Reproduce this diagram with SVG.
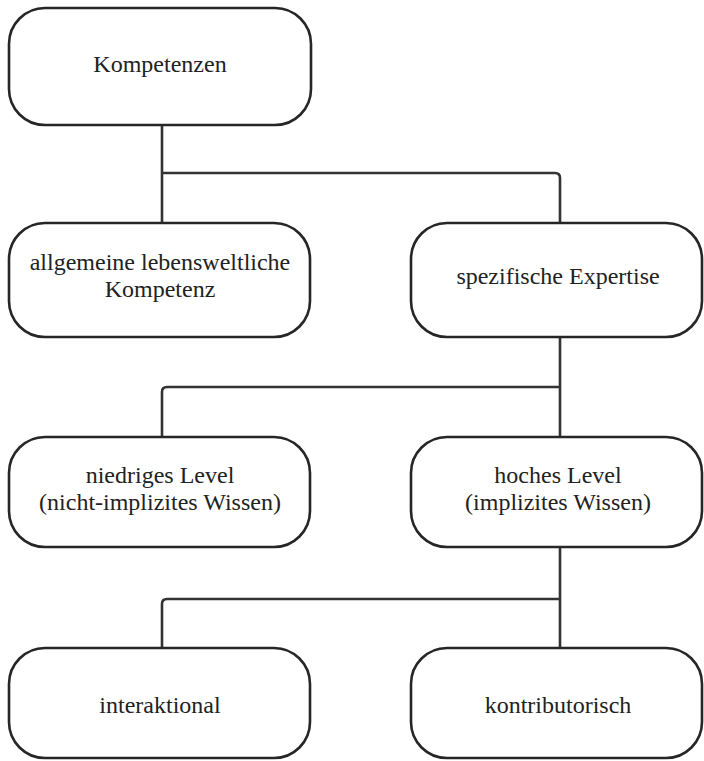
<svg xmlns="http://www.w3.org/2000/svg" width="704" height="761" viewBox="0 0 704 761">
<style>
.box{fill:#fff;stroke:#262626;stroke-width:2.6}
.con{fill:none;stroke:#333;stroke-width:2.6}
text{font-family:"Liberation Serif","DejaVu Serif",serif;font-size:24px;fill:#222;text-anchor:middle}
</style>
<rect width="704" height="761" fill="#fff"/>
<g id="connectors">
<path class="con" d="M162,125 V223 M162,173 H555 Q560,173 560,178 V223"/>
<path class="con" d="M560,337 V437 M560,387 H167 Q162,387 162,392 V437"/>
<path class="con" d="M560,547 V648 M560,599 H167 Q162,599 162,604 V648"/>
</g>
<g id="n1"><rect class="box" x="9" y="8" width="302" height="117" rx="36"/><text x="160" y="72">Kompetenzen</text></g>
<g id="n2"><rect class="box" x="9" y="223" width="301" height="114" rx="36"/><text x="160" y="270">allgemeine lebensweltliche</text><text x="160" y="297">Kompetenz</text></g>
<g id="n3"><rect class="box" x="411" y="223" width="291" height="114" rx="36"/><text x="558" y="284">spezifische Expertise</text></g>
<g id="n4"><rect class="box" x="9" y="437" width="301" height="110" rx="36"/><text x="160" y="483">niedriges Level</text><text x="160" y="510">(nicht-implizites Wissen)</text></g>
<g id="n5"><rect class="box" x="411" y="437" width="291" height="110" rx="36"/><text x="558" y="483">hoches Level</text><text x="558" y="510">(implizites Wissen)</text></g>
<g id="n6"><rect class="box" x="9" y="648" width="301" height="110" rx="36"/><text x="160" y="713">interaktional</text></g>
<g id="n7"><rect class="box" x="411" y="648" width="291" height="110" rx="36"/><text x="558" y="713">kontributorisch</text></g>
</svg>
